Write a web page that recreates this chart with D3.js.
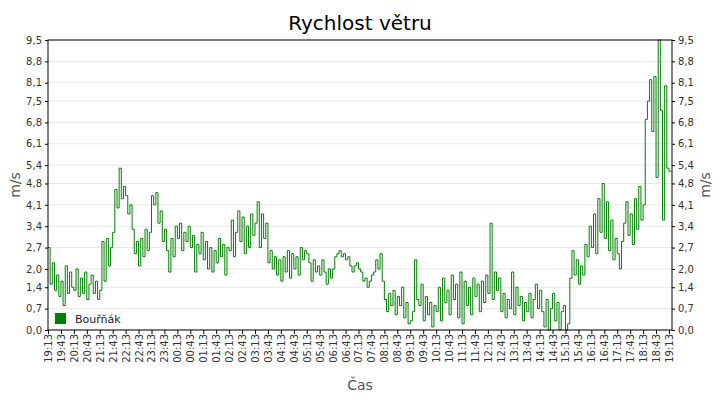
<!DOCTYPE html>
<html>
<head>
<meta charset="utf-8">
<script src="https://cdn.jsdelivr.net/npm/d3@7"></script>
<style>
  body { margin: 0; background: #fff; }
  text { font-family: "DejaVu Sans", sans-serif; }
</style>
</head>
<body>
<svg id="chart" width="720" height="400"></svg>
<script>
// wind speed (m/s), one reading every 5 minutes from 19:13, one row per hour
const speed = [
  2.7,1.5,2.2,1.3,1.8,1.1,1.6,0.8,2.1,1.2,1.9,1.4,
  1.3,2.0,1.1,1.7,1.2,1.9,1.0,1.5,1.8,1.2,1.6,1.0,
  1.3,2.9,1.6,3.0,2.1,2.7,3.2,4.6,4.0,5.3,4.3,4.7,
  4.4,3.8,4.1,3.3,2.5,2.9,2.1,3.0,2.4,3.3,2.6,3.2,
  4.4,4.1,4.5,3.5,3.9,2.9,3.3,2.6,1.9,3.0,2.4,3.4,
  3.0,3.5,2.6,3.2,2.9,3.4,2.7,3.1,1.9,2.8,2.5,3.2,
  2.3,2.9,2.0,2.7,1.9,2.6,2.2,3.0,2.4,2.8,1.8,2.7,
  2.6,3.6,2.4,3.2,3.9,2.9,3.7,2.5,3.4,2.7,3.8,3.1,
  3.5,4.2,2.7,3.8,3.0,3.5,2.2,2.6,2.0,2.4,1.8,2.3,
  1.6,2.4,1.9,2.6,1.7,2.5,2.0,2.4,1.8,2.7,2.3,2.6,
  2.5,2.2,1.6,2.3,1.9,2.1,1.8,2.3,1.9,1.5,2.0,1.7,
  2.0,2.4,2.5,2.6,2.4,2.5,2.3,2.4,2.1,1.9,2.1,2.2,
  2.0,1.9,1.6,1.7,1.4,1.6,1.8,1.9,2.3,2.0,2.5,1.6,
  1.0,0.6,1.2,0.8,1.3,0.5,1.1,0.8,1.4,0.4,0.9,0.2,
  0.3,0.6,2.3,1.0,0.8,1.5,0.3,1.1,0.5,0.9,0.1,0.8,
  0.6,1.4,0.3,1.7,0.9,1.3,0.5,1.8,1.0,1.5,0.4,1.9,
  0.2,1.6,0.8,1.4,0.5,1.7,1.1,1.5,0.6,1.6,0.9,1.8,
  1.2,3.5,1.0,1.9,1.3,1.7,0.6,1.2,0.4,1.0,0.7,1.9,
  0.5,1.4,0.8,1.1,0.3,0.9,0.6,1.2,0.4,1.0,1.5,0.7,
  1.3,0.6,0.1,1.0,0.0,0.7,1.2,0.3,0.9,0.0,0.6,0.8,
  0.0,0.2,1.7,2.6,1.8,2.3,1.5,2.1,1.8,2.8,2.4,3.4,
  2.7,3.8,2.5,4.3,3.2,4.8,3.0,4.2,2.6,3.6,2.3,3.0,
  2.5,2.0,2.9,3.5,4.2,3.1,3.8,2.8,4.3,3.3,4.7,3.6,
  4.1,6.9,7.5,8.2,6.5,8.3,5.0,9.5,7.2,3.6,8.0,5.3,
  5.2,5.2
];
const yTicks = [0,0.7,1.4,2.0,2.7,3.4,4.1,4.8,5.4,6.1,6.8,7.5,8.1,8.8,9.5];
const seriesName = 'Bouřňák';

const start = new Date(2020, 0, 1, 19, 13);
const points = speed.map((v, i) => ({ t: d3.timeMinute.offset(start, i * 5), v }));
const xTickDates = d3.range(0, 49).map(i => d3.timeMinute.offset(start, i * 30));

const svg = d3.select('#chart');
const pLeft = 48, pRight = 672, pTop = 40, pBottom = 330;

const x = d3.scaleTime()
  .domain([start, d3.timeMinute.offset(start, 24 * 60 + 7)])
  .range([pLeft, pRight]);
const y = d3.scaleLinear().domain([0, 9.5]).range([pBottom, pTop]);
const fmt = d => d3.format('.1f')(d).replace('.', ',');

// grid
svg.append('g').selectAll('line').data(yTicks).enter().append('line')
  .attr('x1', pLeft).attr('x2', pRight)
  .attr('y1', d => y(d)).attr('y2', d => y(d))
  .attr('stroke', '#e8e8e8');

// line
svg.append('path').datum(points)
  .attr('fill', 'none').attr('stroke', '#008000').attr('stroke-width', 1)
  .attr('d', d3.line().x(d => x(d.t)).y(d => y(d.v)).curve(d3.curveStepAfter));

// frame
svg.append('rect').attr('x', pLeft).attr('y', pTop)
  .attr('width', pRight - pLeft).attr('height', pBottom - pTop)
  .attr('fill', 'none').attr('stroke', '#000');

// axes
const yl = svg.append('g').attr('transform', `translate(${pLeft},0)`)
  .call(d3.axisLeft(y).tickValues(yTicks).tickFormat(fmt).tickSize(3));
const yr = svg.append('g').attr('transform', `translate(${pRight},0)`)
  .call(d3.axisRight(y).tickValues(yTicks).tickFormat(fmt).tickSize(3));
const xa = svg.append('g').attr('transform', `translate(0,${pBottom})`)
  .call(d3.axisBottom(x).tickValues(xTickDates).tickFormat(d3.timeFormat('%H:%M')).tickSize(4));
xa.selectAll('text')
  .attr('transform', 'rotate(-90)')
  .attr('text-anchor', 'end')
  .attr('dx', '-0.4em').attr('dy', '0.35em')
  .attr('x', 0).attr('y', 0);
[yl, yr, xa].forEach(g => {
  g.select('.domain').remove();
  g.selectAll('text').attr('fill', '#333').style('font-size', '10px');
});

// titles
svg.append('text').attr('x', 360).attr('y', 30).attr('text-anchor', 'middle')
  .style('font-size', '20px').text('Rychlost větru');
svg.append('text').attr('x', 360).attr('y', 390).attr('text-anchor', 'middle')
  .attr('fill', '#555').style('font-size', '14px').text('Čas');
svg.append('text').attr('transform', 'translate(20,185) rotate(-90)')
  .attr('text-anchor', 'middle').attr('fill', '#555').style('font-size', '14px').text('m/s');
svg.append('text').attr('transform', 'translate(710,185) rotate(-90)')
  .attr('text-anchor', 'middle').attr('fill', '#555').style('font-size', '14px').text('m/s');

// legend
svg.append('rect').attr('x', 55).attr('y', 313).attr('width', 11).attr('height', 11).attr('fill', '#008000');
svg.append('text').attr('x', 75).attr('y', 323).style('font-size', '11px').attr('fill', '#222').text(seriesName);
</script>
</body>
</html>
